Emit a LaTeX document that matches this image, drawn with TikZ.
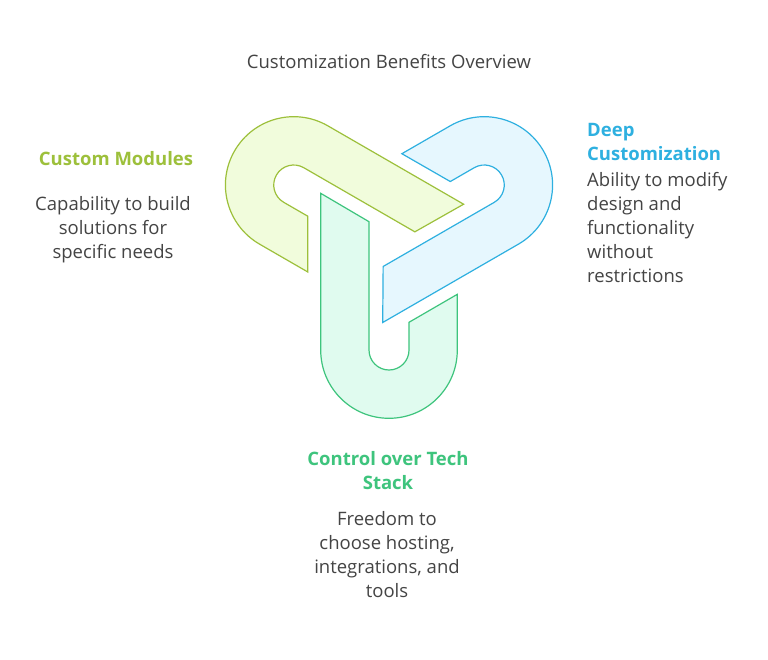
\documentclass[tikz,border=0pt]{standalone}
\usepackage{fontspec}
\setmainfont{Open Sans}
\definecolor{ys}{HTML}{9DC03B}\definecolor{yf}{HTML}{F1FCDC}
\definecolor{bs}{HTML}{2EB0E0}\definecolor{bf}{HTML}{E6F7FE}
\definecolor{gs}{HTML}{3EC47D}\definecolor{gf}{HTML}{E0FBEF}
\definecolor{tx}{HTML}{444444}
\begin{document}
\begin{tikzpicture}[x=1pt,y=-1pt,
  body/.style={font=\fontsize{18.5}{24}\selectfont,text=tx,inner sep=0pt},
  head/.style={font=\fontsize{18.5}{24}\selectfont\bfseries,inner sep=0pt}]
\useasboundingbox (0,0) rectangle (768,659);
\fill[white] (0,0) rectangle (768,659);
\def\hook{(-68.3,-46.7) -- (-68.3,110) arc[start angle=180,end angle=0,radius=68.3] -- (68.3,54.3) -- (20,82.3) -- (20,110) arc[start angle=0,end angle=180,radius=20] -- (-20,-18.3) -- cycle}
\begin{scope}[shift={(389,240)},line width=1.2pt]
\filldraw[draw=gs,fill=gf] \hook;
\begin{scope}[rotate=120]\filldraw[draw=bs,fill=bf] \hook;\end{scope}
\begin{scope}[rotate=-120]\filldraw[draw=ys,fill=yf] \hook;\end{scope}
\end{scope}
\node[body] (title) at (389,62) {Customization Benefits Overview};
\node[head,text=ys] (h1) at (116,159) {Custom Modules};
\node[body,align=center,anchor=north] (b1) at (113,196) {Capability to build\\solutions for\\specific needs};
\node[head,text=bs,align=left,anchor=north west] (h2) at (587,123) {Deep\\Customization};
\node[body,align=left,anchor=north west] (b2) at (587,172) {Ability to modify\\design and\\functionality\\without\\restrictions};
\node[head,text=gs,align=center,anchor=north] (h3) at (388,451) {Control over Tech\\Stack};
\node[body,align=center,anchor=north] (b3) at (387,511) {Freedom to\\choose hosting,\\integrations, and\\tools};
\end{tikzpicture}
\end{document}
